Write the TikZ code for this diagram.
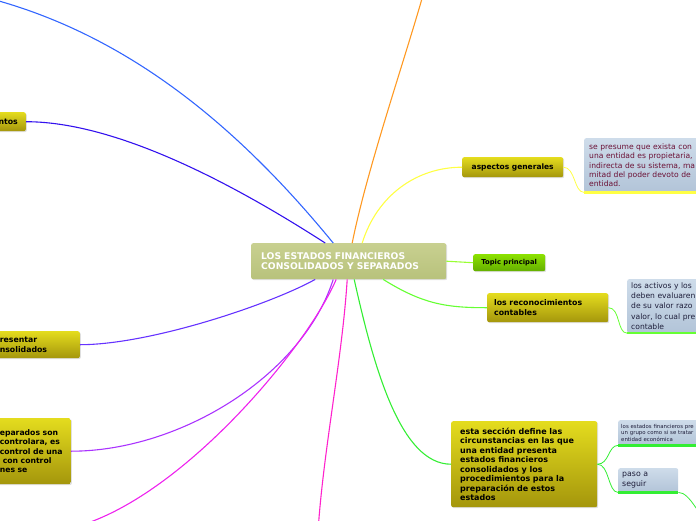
\documentclass[tikz,border=0pt]{standalone}
\usepackage{fontspec}
\setmainfont{DejaVu Sans}
\usetikzlibrary{shapes, shadows, calc}

\definecolor{lineblue}{HTML}{3366FF}
\definecolor{lineindigo}{HTML}{3311EE}
\definecolor{lineorange}{HTML}{FF9922}
\definecolor{lineyellow}{HTML}{FFFF44}
\definecolor{linelime}{HTML}{99FF33}
\definecolor{linegreen}{HTML}{66FF33}
\definecolor{linegreenb}{HTML}{33EE33}
\definecolor{lineviolet}{HTML}{6633FF}
\definecolor{linepurple}{HTML}{AA33FF}
\definecolor{linemagenta}{HTML}{EE22EE}
\definecolor{linepink}{HTML}{FF22CC}
\definecolor{notered}{HTML}{6B1035}
\definecolor{notedark}{HTML}{1E1E3A}

\begin{document}
\begin{tikzpicture}[x=1pt, y=-1pt]
                    \tikzstyle{rootbox} = [draw=none, rectangle, top color={rgb,255:red,200;green,208;blue,144}, bottom color={rgb,255:red,184;green,194;blue,124}, text=white, font=\bfseries\fontsize{9.2}{10.5}\selectfont, rounded corners=2pt, align=left, drop shadow={opacity=0.25, shadow xshift=1pt, shadow yshift=-1pt}]
                    \tikzstyle{topicbox} = [draw=none, rectangle, top color={rgb,255:red,228;green,220;blue,30}, bottom color={rgb,255:red,164;green,150;blue,12}, font=\bfseries\fontsize{7.8}{9.5}\selectfont, rounded corners=2pt, align=left, drop shadow={opacity=0.25, shadow xshift=1pt, shadow yshift=-1pt}]
                    \tikzstyle{limebox} = [draw=none, rectangle, top color={rgb,255:red,140;green,225;blue,0}, bottom color={rgb,255:red,100;green,175;blue,0}, font=\bfseries\fontsize{6.8}{8}\selectfont, rounded corners=2pt, drop shadow={opacity=0.25, shadow xshift=1pt, shadow yshift=-1pt}]
                    \tikzstyle{notebox} = [draw=none, rectangle, top color={rgb,255:red,206;green,220;blue,234}, bottom color={rgb,255:red,178;green,196;blue,216}, text=notedark, font=\fontsize{7.6}{10.3}\selectfont, rounded corners=2pt, align=left]
                    \tikzstyle{branch} = [line width=1.1pt]
                    \tikzstyle{underline} = [line width=2.6pt]

                    \useasboundingbox (0,0) rectangle (696,520);

                    % central topic
                    \node[rootbox, anchor=north west, text width=175pt, inner xsep=10pt, minimum height=36pt] (root) at (251,243) {LOS ESTADOS FINANCIEROS\\CONSOLIDADOS Y SEPARADOS};

                    % right side
                    \node[topicbox, anchor=north west, minimum width=101pt, minimum height=20pt, inner xsep=3pt, align=center, font=\bfseries\fontsize{7.5}{9}\selectfont] (aspectos) at (462,157) {aspectos generales};
                    \node[limebox, anchor=north west, minimum width=72pt, minimum height=17pt, inner xsep=2pt] (topic) at (473,254) {Topic principal};
                    \node[topicbox, anchor=north west, text width=107pt, inner xsep=7pt, minimum height=29pt] (reco) at (487,293) {los reconocimientos\\contables};
                    \node[topicbox, anchor=north west, text width=128pt, inner xsep=9pt, minimum height=86pt, font=\bfseries\fontsize{8}{9.5}\selectfont] (seccion) at (451,421) {esta sección define las\\circunstancias en las que\\una entidad presenta\\estados financieros\\consolidados y los\\procedimientos para la\\preparación de estos\\estados};

                    \node[notebox, anchor=north west, text width=170pt, inner xsep=5pt, minimum height=54pt, text=notered, font=\fontsize{7.6}{9.2}\selectfont] (aspnote) at (584,138) {se presume que exista con\\una entidad es propietaria,\\indirecta de su sistema, ma\\mitad del poder devoto de\\entidad.};
                    \node[notebox, anchor=north west, text width=110pt, inner xsep=4pt, minimum height=53pt] (reconote) at (627,279) {los activos y los\\deben evaluaren\\de su valor razo\\valor, lo cual pre\\contable};
                    \node[notebox, anchor=north west, text width=100pt, inner xsep=3pt, minimum height=25pt, font=\fontsize{5.4}{6.4}\selectfont] (grupo) at (618,420) {los estados financieros pre\\un grupo como si se tratar\\entidad económica};
                    \node[notebox, anchor=north west, text width=52pt, inner xsep=4pt, minimum height=24pt, font=\fontsize{7.8}{10}\selectfont] (paso) at (618,468) {paso a\\seguir};

                    % left side (cut by the page edge)
                    \node[topicbox, anchor=north east, text width=60pt, inner xsep=8pt, minimum height=19pt, align=right] (requisitos) at (26,112) {ntos};
                    \node[topicbox, anchor=north east, text width=72pt, inner xsep=8pt, minimum height=27pt] (presentar) at (80,331) {resentar\\nsolidados};
                    \node[topicbox, anchor=north east, text width=68pt, inner xsep=5pt, minimum height=66pt, font=\bfseries\fontsize{7.7}{9.3}\selectfont] (separados) at (71,418) {\hspace*{2pt}eparados son\\\hspace*{2pt}controlara, es\\\hspace*{2pt}control de una\\\hspace*{5pt}con control\\\hspace*{2pt}nes se};

                    \coordinate (topleft) at (-12,-2);
                    \coordinate (topright) at (425,-12);
                    \coordinate (lowleft) at (62,530);
                    \coordinate (lowmid) at (318,532);
                    \coordinate (lowright) at (712,530);

                    % branches from the central topic
                    \draw[branch, lineblue] ([xshift=-15.5pt]root.north) .. controls +(-90,-110) and +(145,38) .. (topleft);
                    \draw[branch, lineindigo] ([xshift=-23.5pt]root.north) .. controls +(-70,-45) and +(100,0) .. (requisitos.east);
                    \draw[branch, lineorange] ([xshift=3.5pt]root.north) .. controls +(15,-75) and +(-18,65) .. (topright);
                    \draw[branch, lineyellow] ([xshift=13.5pt]root.north) .. controls +(15,-48) and +(-45,0) .. (aspectos.west);
                    \draw[branch, linelime] (root.east) -- (topic.west);
                    \draw[branch, linegreen] ([xshift=34.5pt]root.south) .. controls +(40,25) and +(-40,0) .. (reco.west);
                    \draw[branch, linegreenb] ([xshift=5.5pt]root.south) .. controls +(20,90) and +(-50,0) .. (seccion.west);
                    \draw[branch, lineviolet] ([xshift=-33.5pt]root.south) .. controls +(-45,25) and +(70,0) .. (presentar.east);
                    \draw[branch, linepurple] ([xshift=-15.5pt]root.south) .. controls +(-30,95) and +(110,0) .. (separados.east);
                    \draw[branch, linemagenta] ([xshift=-12.5pt]root.south) .. controls +(-30,70) and +(110,-20) .. (lowleft);
                    \draw[branch, linepink] ([xshift=-1.5pt]root.south) .. controls +(-5,80) and +(5,-80) .. (lowmid);

                    % notes and sub-topics
                    \draw[lineyellow, line width=0.8pt] (aspectos.east) .. controls +(12,0) and +(-10,0) .. (aspnote.south west);
                    \draw[underline, lineyellow] (aspnote.south west) -- (aspnote.south east);
                    \draw[linegreen, line width=0.8pt] (reco.east) .. controls +(12,0) and +(-10,0) .. (reconote.south west);
                    \draw[underline, linegreen] (reconote.south west) -- (reconote.south east);
                    \draw[linegreenb, line width=0.8pt] (seccion.east) .. controls +(12,0) and +(-10,0) .. (grupo.south west);
                    \draw[underline, linegreenb] (grupo.south west) -- (grupo.south east);
                    \draw[linegreenb, line width=0.8pt] (seccion.east) .. controls +(12,0) and +(-10,0) .. (paso.south west);
                    \draw[underline, linegreenb] (paso.south west) -- (paso.south east);
                    \draw[linegreenb, line width=0.8pt] (paso.south east) .. controls +(12,0) and +(-12,-12) .. (lowright);
                \end{tikzpicture}
\end{document}
